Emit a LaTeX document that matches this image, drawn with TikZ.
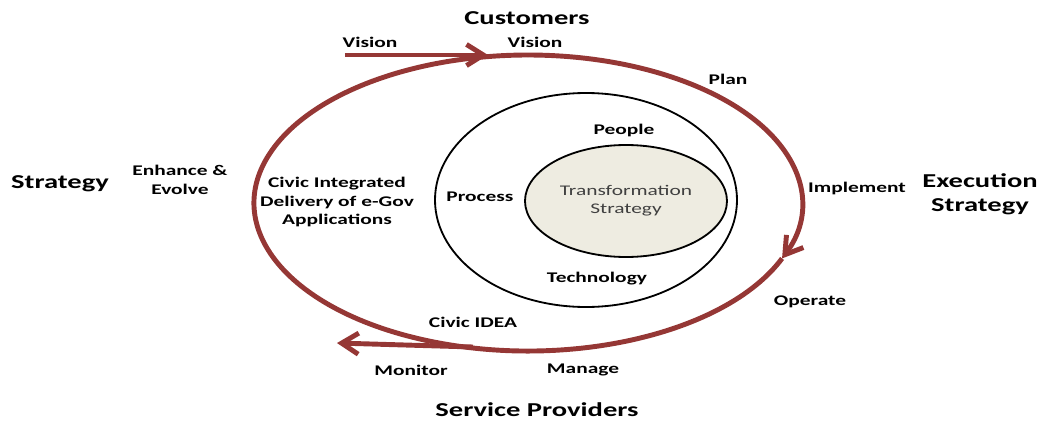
\documentclass[tikz,border=0pt]{standalone}
\usepackage{fontspec}
\setmainfont{Carlito}[FakeStretch=1.45]
\usetikzlibrary{arrows.meta,shapes.geometric}
\definecolor{loopred}{RGB}{149,55,53}
\definecolor{corefill}{RGB}{238,236,225}

\begin{document}
\begin{tikzpicture}[
    redline/.style={draw=loopred, line width=3.5pt},
    redarrow/.style={redline, -{Straight Barb[length=12pt, width=15pt]}},
    phase/.style={font=\bfseries\fontsize{10.5}{13}\selectfont, align=center},
    side/.style={font=\bfseries\fontsize{14}{17}\selectfont, align=center}]
    \useasboundingbox (-13.2,-5.425) rectangle (12.85,5.075);
    % rings
    \node[draw, ellipse, line width=1.3pt, minimum width=7.55cm, minimum height=5.35cm] (ring) at (1.45,0.075) {};
    \node[draw, ellipse, line width=1.3pt, fill=corefill, inner sep=0pt, minimum width=5.05cm, minimum height=2.8cm,
        text=black!75, font=\fontsize{10.5}{13}\selectfont, align=center] (core) at (2.45,0.05) {Transformation\\Strategy};
    % cycle
    \coordinate (top) at (0,3.7);
    \draw[redarrow] (top) arc[start angle=90, end angle=-22, x radius=6.85, y radius=3.7] coordinate (turn);
    \draw[redline] (turn) arc[start angle=-22, end angle=-270, x radius=6.85, y radius=3.7];
    \coordinate (visionIn) at (-4.575,3.7);
    \coordinate (visionTip) at (-1.0,3.7);
    \draw[redarrow] (visionIn) -- (visionTip);
    \coordinate (ideaOut) at (-1.375,-3.6);
    \coordinate (monitorTip) at (-4.775,-3.5);
    \draw[redarrow] (ideaOut) -- (monitorTip);
    % labels
    \node[side] (customers) at (-0.025,4.625) {Customers};
    \node[side] (strategy) at (-11.7,0.475) {Strategy};
    \node[side] (execution) at (11.3,0.225) {Execution\\Strategy};
    \node[side] (providers) at (0.225,-5.17) {Service Providers};
    \node[phase] (visionL) at (-3.95,4.025) {Vision};
    \node[phase] (visionR) at (0.175,4.025) {Vision};
    \node[phase] (plan) at (5.0,3.1) {Plan};
    \node[phase] (people) at (2.4,1.825) {People};
    \node[phase] (enhance) at (-8.7,0.575) {Enhance \&\\Evolve};
    \node[phase] (civic) at (-4.775,0.025) {Civic Integrated\\Delivery of e-Gov\\Applications};
    \node[phase] (process) at (-1.2,0.15) {Process};
    \node[phase] (implement) at (8.225,0.375) {Implement};
    \node[phase] (technology) at (1.725,-1.9) {Technology};
    \node[phase] (operate) at (7.05,-2.475) {Operate};
    \node[phase] (idea) at (-1.375,-2.975) {Civic IDEA};
    \node[phase] (monitor) at (-2.925,-4.175) {Monitor};
    \node[phase] (manage) at (1.375,-4.175) {Manage};
\end{tikzpicture}
\end{document}
